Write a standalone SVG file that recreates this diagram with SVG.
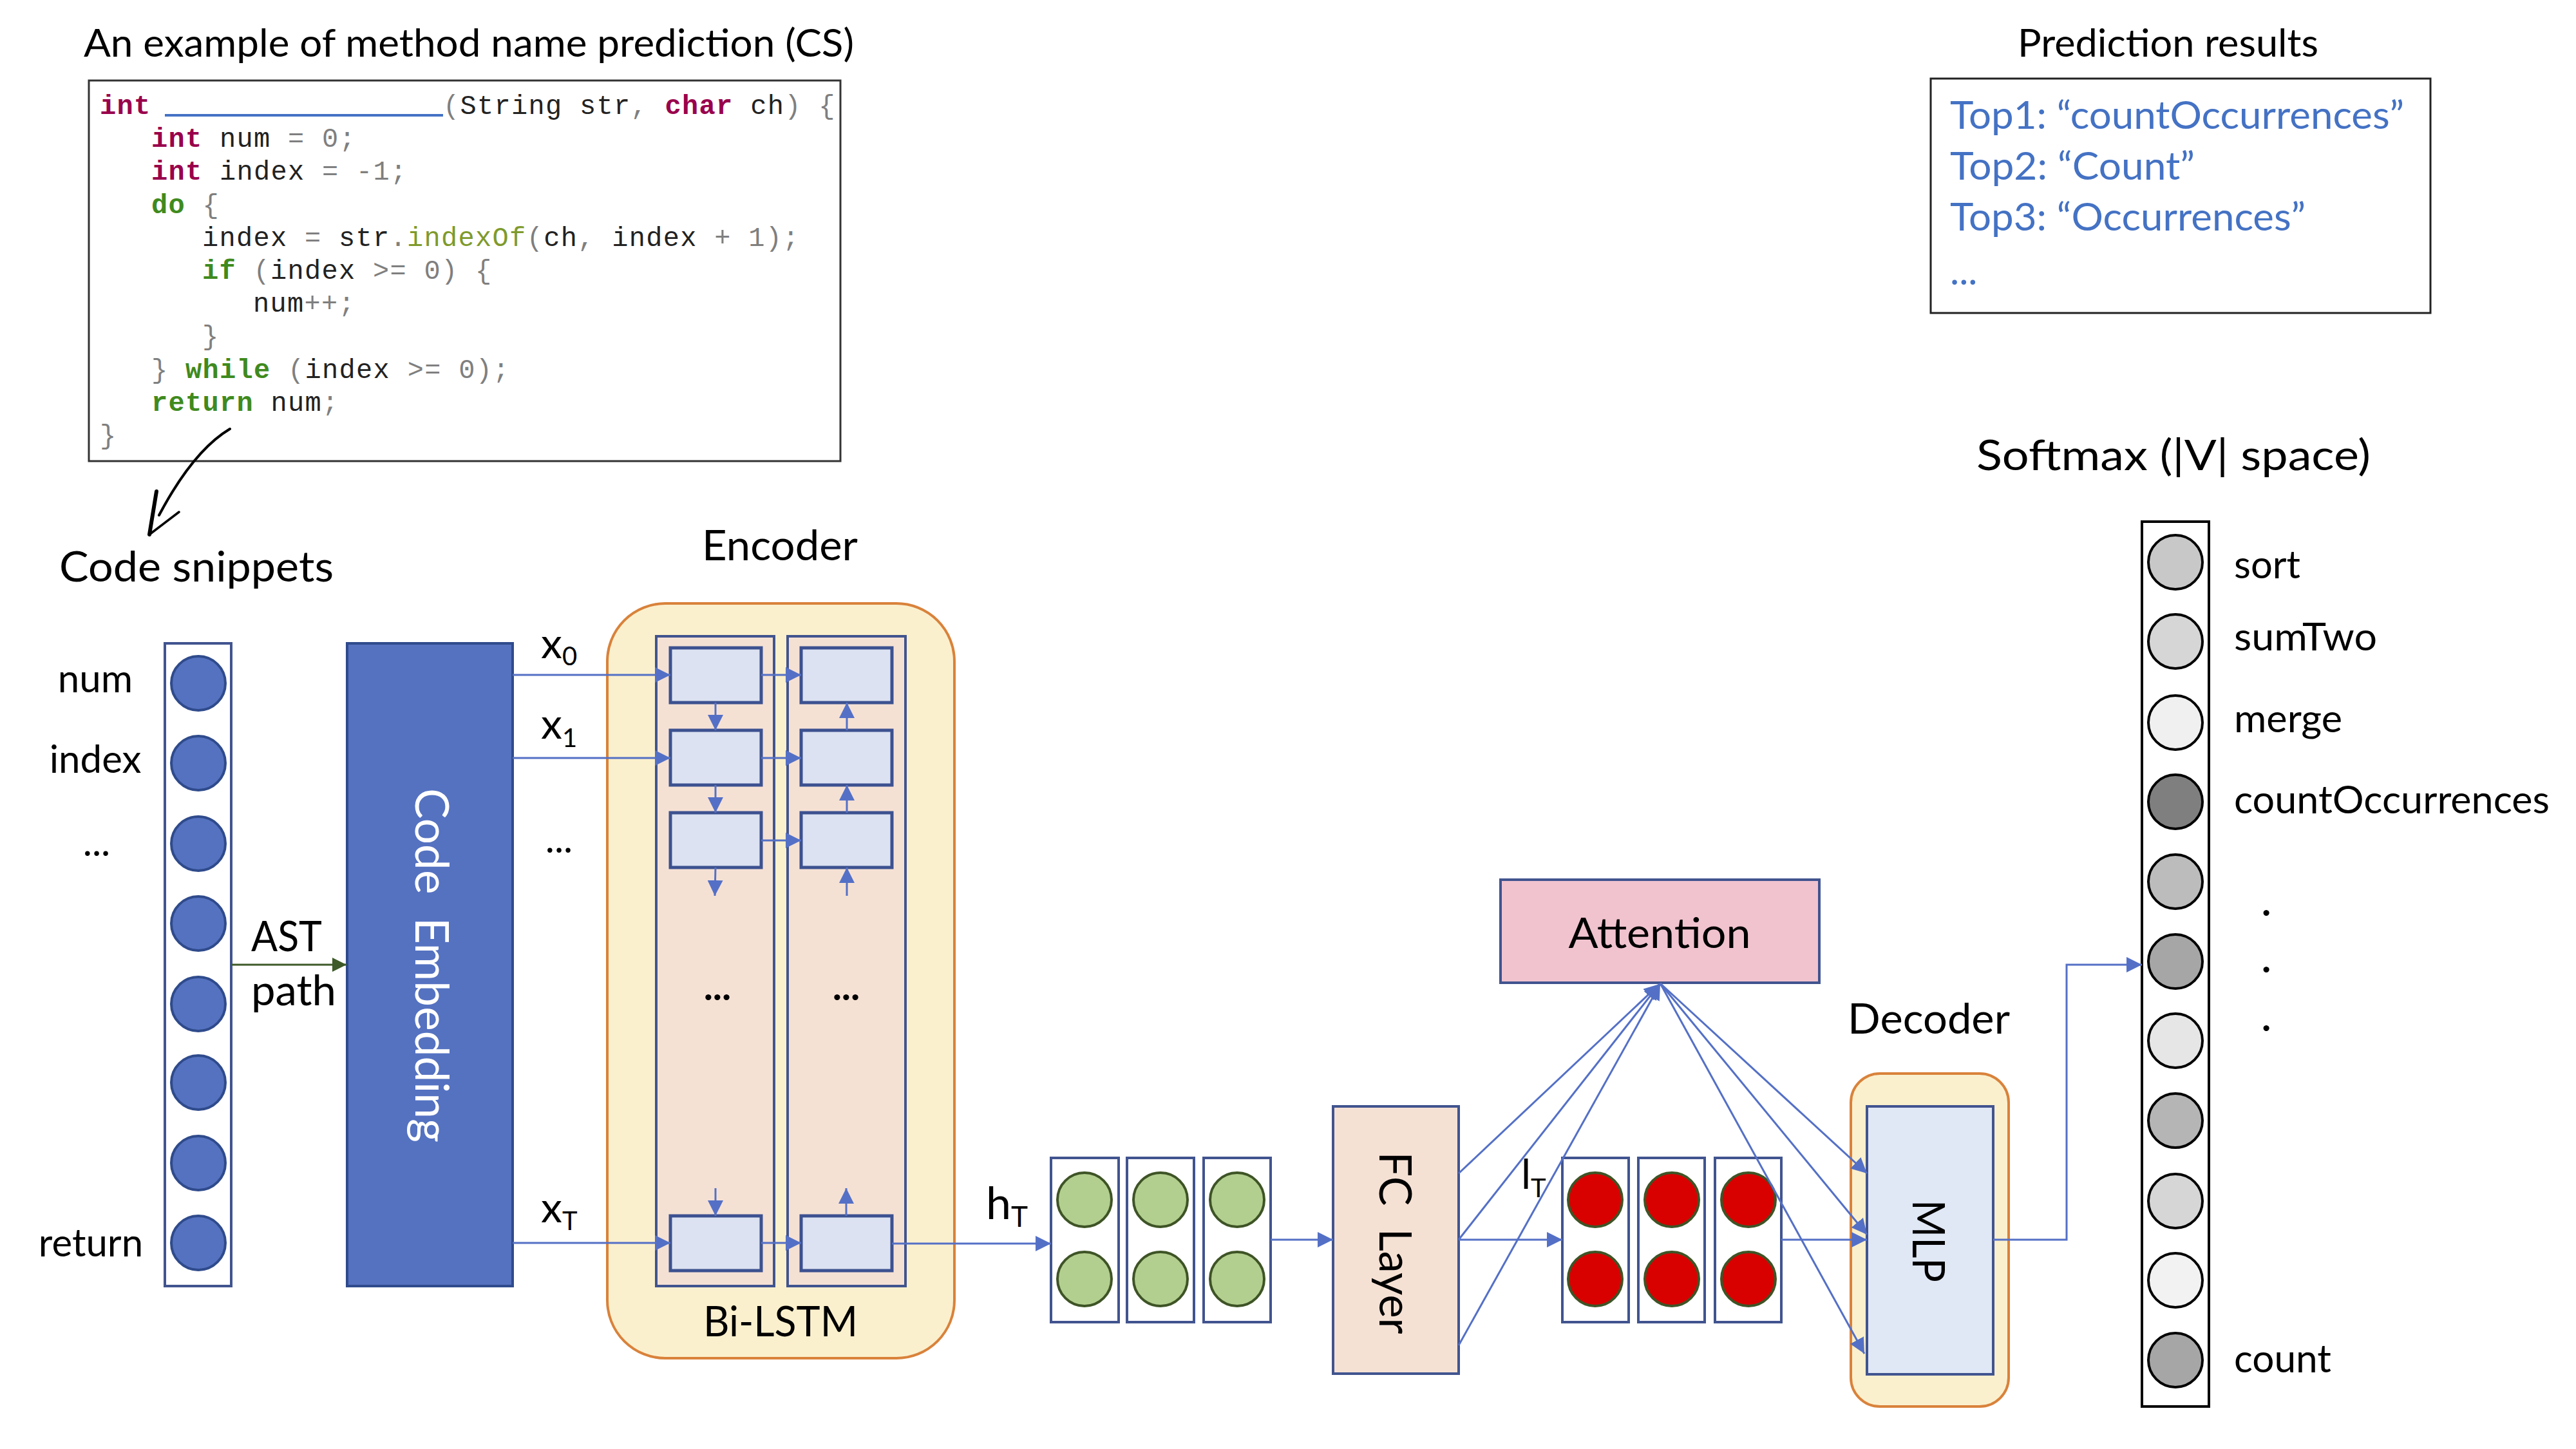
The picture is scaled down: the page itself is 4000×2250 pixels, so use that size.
<svg xmlns="http://www.w3.org/2000/svg" width="4000" height="2250" viewBox="0 0 4000 2250">
<style>
text{font-family:Lato,"Open Sans","Liberation Sans",sans-serif;fill:#000}
.code{font-family:"Liberation Mono",monospace;font-size:42px;letter-spacing:1.3px;fill:#222}
.k1{fill:#99004C;font-weight:bold}
.k2{fill:#3F8A1E;font-weight:bold}
.m{fill:#7E9A2C}
.g{fill:#7F7F7F}
.blue{fill:#4472C4}
.con{stroke:#5470C6;stroke-width:3;fill:none}
.box{stroke:#41548F;stroke-width:4}
.cell{fill:#DCE2F1;stroke:#3C5190;stroke-width:5}
.col{fill:#F5E1D4;stroke:#41548F;stroke-width:4}
.wrap{fill:#FBF0CD;stroke:#D9823B;stroke-width:4}
.bc{fill:#5572C1;stroke:#2F4B8C;stroke-width:4}
.gc{fill:#B3CF8F;stroke:#3E5426;stroke-width:4}
.rc{fill:#D90000;stroke:#3E5426;stroke-width:4}
.sc{stroke:#000;stroke-width:4}
</style>
<defs>
<marker id="ab" viewBox="0 0 24 24" markerWidth="24" markerHeight="24" refX="24" refY="12" orient="auto" markerUnits="userSpaceOnUse"><path d="M0,0 L24,12 L0,24 z" fill="#5470C6"/></marker>
<marker id="ag" viewBox="0 0 22 22" markerWidth="22" markerHeight="22" refX="22" refY="11" orient="auto" markerUnits="userSpaceOnUse"><path d="M0,0 L22,11 L0,22 z" fill="#3D5A28"/></marker>
</defs>
<rect width="4000" height="2250" fill="#fff"/>

<!-- Title and code example -->
<g id="example">
<text x="130" y="88" font-size="60" textLength="1196" lengthAdjust="spacingAndGlyphs">An example of method name prediction (CS)</text>
<rect x="138" y="125" width="1167" height="591" fill="#fff" stroke="#333" stroke-width="3"/>
<text class="code" x="155" y="177"><tspan class="k1">int</tspan></text>
<line x1="256" y1="179" x2="688" y2="179" stroke="#4472C4" stroke-width="4"/>
<text class="code" x="688" y="177"><tspan class="g">(</tspan>String str<tspan class="g">,</tspan> <tspan class="k1">char</tspan> ch<tspan class="g">)</tspan> <tspan class="g">{</tspan></text>
<text class="code" x="235" y="228"><tspan class="k1">int</tspan> num <tspan class="g">= 0;</tspan></text>
<text class="code" x="235" y="279"><tspan class="k1">int</tspan> index <tspan class="g">= -1;</tspan></text>
<text class="code" x="235" y="331"><tspan class="k2">do</tspan> <tspan class="g">{</tspan></text>
<text class="code" x="314" y="382">index <tspan class="g">=</tspan> str<tspan class="g">.</tspan><tspan class="m">indexOf</tspan><tspan class="g">(</tspan>ch<tspan class="g">,</tspan> index <tspan class="g">+ 1);</tspan></text>
<text class="code" x="314" y="433"><tspan class="k2">if</tspan> <tspan class="g">(</tspan>index <tspan class="g">&gt;= 0) {</tspan></text>
<text class="code" x="393" y="484">num<tspan class="g">++;</tspan></text>
<text class="code g" x="314" y="535">}</text>
<text class="code" x="235" y="587"><tspan class="g">}</tspan> <tspan class="k2">while</tspan> <tspan class="g">(</tspan>index <tspan class="g">&gt;= 0);</tspan></text>
<text class="code" x="235" y="638"><tspan class="k2">return</tspan> num<tspan class="g">;</tspan></text>
<text class="code g" x="155" y="689">}</text>
<path d="M357,666 Q300,700 247,800" fill="none" stroke="#000" stroke-width="4" stroke-linecap="round"/>
<line x1="243" y1="763" x2="232" y2="830" stroke="#000" stroke-width="6" stroke-linecap="round"/>
<line x1="232" y1="830" x2="278" y2="795" stroke="#000" stroke-width="3.5" stroke-linecap="round"/>
</g>

<!-- Code snippets -->
<g id="snippets">
<text x="92" y="903" font-size="66" textLength="426" lengthAdjust="spacingAndGlyphs">Code snippets</text>
<rect x="256" y="999" width="103" height="998" fill="#fff" class="box"/>
<circle class="bc" cx="308" cy="1061" r="42"/>
<circle class="bc" cx="308" cy="1185" r="42"/>
<circle class="bc" cx="308" cy="1310" r="42"/>
<circle class="bc" cx="308" cy="1434" r="42"/>
<circle class="bc" cx="308" cy="1559" r="42"/>
<circle class="bc" cx="308" cy="1681" r="42"/>
<circle class="bc" cx="308" cy="1806" r="42"/>
<circle class="bc" cx="308" cy="1930" r="42"/>
<text x="148" y="1075" font-size="60" text-anchor="middle">num</text>
<text x="148" y="1200" font-size="60" text-anchor="middle">index</text>
<text x="150" y="1329" font-size="60" text-anchor="middle">...</text>
<text x="141" y="1951" font-size="60" text-anchor="middle">return</text>
<text x="390" y="1477" font-size="66" textLength="110" lengthAdjust="spacingAndGlyphs">AST</text>
<text x="390" y="1561" font-size="66" textLength="132" lengthAdjust="spacingAndGlyphs">path</text>
</g>

<!-- Code Embedding -->
<g id="embedding">
<rect x="539" y="999" width="257" height="998" class="bc"/>
<text transform="translate(645,1499) rotate(90)" font-size="72" text-anchor="middle" fill="#fff" style="fill:#fff" xml:space="preserve" textLength="550" lengthAdjust="spacingAndGlyphs">Code  Embedding</text>
<text x="840" y="1022" font-size="66">x<tspan font-size="40" dy="11">0</tspan></text>
<text x="840" y="1147" font-size="66">x<tspan font-size="40" dy="13">1</tspan></text>
<text x="868" y="1324" font-size="60" text-anchor="middle">...</text>
<text x="840" y="1898" font-size="66">x<tspan font-size="40" dy="12">T</tspan></text>
</g>

<!-- Encoder -->
<g id="encoder">
<text x="1090" y="870" font-size="66" textLength="242" lengthAdjust="spacingAndGlyphs">Encoder</text>
<rect x="943" y="937" width="539" height="1172" rx="90" class="wrap"/>
<rect x="1019" y="988" width="183" height="1009" class="col"/>
<rect x="1223" y="988" width="183" height="1009" class="col"/>
<rect x="1041" y="1006" width="141" height="85" class="cell"/>
<rect x="1041" y="1134" width="141" height="85" class="cell"/>
<rect x="1041" y="1262" width="141" height="85" class="cell"/>
<rect x="1041" y="1888" width="141" height="85" class="cell"/>
<rect x="1244" y="1006" width="141" height="85" class="cell"/>
<rect x="1244" y="1134" width="141" height="85" class="cell"/>
<rect x="1244" y="1262" width="141" height="85" class="cell"/>
<rect x="1244" y="1888" width="141" height="85" class="cell"/>
<text x="1114" y="1553" font-size="60" text-anchor="middle" font-weight="bold">...</text>
<text x="1314" y="1553" font-size="60" text-anchor="middle" font-weight="bold">...</text>
<text x="1092" y="2075" font-size="66" textLength="240" lengthAdjust="spacingAndGlyphs">Bi-LSTM</text>
</g>

<!-- Hidden states -->
<g id="hidden">
<text x="1531" y="1893" font-size="70">h<tspan font-size="44" dy="12">T</tspan></text>
<rect x="1632" y="1798" width="105" height="255" fill="#fff" class="box"/>
<rect x="1750" y="1798" width="104" height="255" fill="#fff" class="box"/>
<rect x="1869" y="1798" width="104" height="255" fill="#fff" class="box"/>
<circle class="gc" cx="1684" cy="1863" r="42"/>
<circle class="gc" cx="1684" cy="1986" r="42"/>
<circle class="gc" cx="1802" cy="1863" r="42"/>
<circle class="gc" cx="1802" cy="1986" r="42"/>
<circle class="gc" cx="1921" cy="1863" r="42"/>
<circle class="gc" cx="1921" cy="1986" r="42"/>
</g>

<!-- FC layer -->
<g id="fc">
<rect x="2070" y="1718" width="195" height="415" fill="#F5E1D4" class="box"/>
<text transform="translate(2142,1930) rotate(90)" font-size="70" text-anchor="middle" xml:space="preserve" textLength="283" lengthAdjust="spacingAndGlyphs">FC  Layer</text>
</g>

<!-- l_T vectors -->
<g id="lt">
<text x="2362" y="1846" font-size="64">l<tspan font-size="40" dy="13">T</tspan></text>
<rect x="2426" y="1798" width="103" height="255" fill="#fff" class="box"/>
<rect x="2544" y="1798" width="103" height="255" fill="#fff" class="box"/>
<rect x="2663" y="1798" width="103" height="255" fill="#fff" class="box"/>
<circle class="rc" cx="2477" cy="1863" r="42"/>
<circle class="rc" cx="2477" cy="1986" r="42"/>
<circle class="rc" cx="2596" cy="1863" r="42"/>
<circle class="rc" cx="2596" cy="1986" r="42"/>
<circle class="rc" cx="2715" cy="1863" r="42"/>
<circle class="rc" cx="2715" cy="1986" r="42"/>
</g>

<!-- Attention -->
<g id="attention">
<rect x="2330" y="1366" width="495" height="160" fill="#F1C3CF" class="box"/>
<text x="2577" y="1472" font-size="66" text-anchor="middle" textLength="283" lengthAdjust="spacingAndGlyphs">Attention</text>
</g>

<!-- Decoder -->
<g id="decoder">
<text x="2869" y="1605" font-size="66" textLength="252" lengthAdjust="spacingAndGlyphs">Decoder</text>
<rect x="2874" y="1667" width="245" height="517" rx="45" class="wrap"/>
<rect x="2899" y="1718" width="196" height="416" fill="#E0E7F5" class="box"/>
<text transform="translate(2970,1927) rotate(90)" font-size="70" text-anchor="middle" textLength="128" lengthAdjust="spacingAndGlyphs">MLP</text>
</g>

<!-- Softmax -->
<g id="softmax">
<text x="3069" y="730" font-size="66" textLength="612" lengthAdjust="spacingAndGlyphs">Softmax (|V| space)</text>
<rect x="3326" y="810" width="104" height="1374" fill="#fff" stroke="#000" stroke-width="4"/>
<circle class="sc" cx="3378" cy="873" r="42" fill="#C8C8C8"/>
<circle class="sc" cx="3378" cy="996" r="42" fill="#D6D6D6"/>
<circle class="sc" cx="3378" cy="1122" r="42" fill="#F0F0F0"/>
<circle class="sc" cx="3378" cy="1245" r="42" fill="#7F7F7F"/>
<circle class="sc" cx="3378" cy="1369" r="42" fill="#BCBCBC"/>
<circle class="sc" cx="3378" cy="1493" r="42" fill="#A6A6A6"/>
<circle class="sc" cx="3378" cy="1616" r="42" fill="#E6E6E6"/>
<circle class="sc" cx="3378" cy="1740" r="42" fill="#B5B5B5"/>
<circle class="sc" cx="3378" cy="1865" r="42" fill="#D6D6D6"/>
<circle class="sc" cx="3378" cy="1988" r="42" fill="#F2F2F2"/>
<circle class="sc" cx="3378" cy="2112" r="42" fill="#A6A6A6"/>
<text x="3469" y="898" font-size="60" textLength="103" lengthAdjust="spacingAndGlyphs">sort</text>
<text x="3469" y="1010" font-size="60" textLength="222" lengthAdjust="spacingAndGlyphs">sumTwo</text>
<text x="3469" y="1137" font-size="60" textLength="168" lengthAdjust="spacingAndGlyphs">merge</text>
<text x="3469" y="1263" font-size="60" textLength="490" lengthAdjust="spacingAndGlyphs">countOccurrences</text>
<text x="3519" y="1422" font-size="60" text-anchor="middle" font-weight="bold">.</text>
<text x="3519" y="1510" font-size="60" text-anchor="middle" font-weight="bold">.</text>
<text x="3519" y="1601" font-size="60" text-anchor="middle" font-weight="bold">.</text>
<text x="3469" y="2131" font-size="60" textLength="151" lengthAdjust="spacingAndGlyphs">count</text>
</g>

<!-- Prediction results -->
<g id="results">
<text x="3133" y="88" font-size="60" textLength="467" lengthAdjust="spacingAndGlyphs">Prediction results</text>
<rect x="2998" y="122" width="776" height="364" fill="#fff" stroke="#222" stroke-width="3"/>
<text class="blue" x="3028" y="200" font-size="60" textLength="705" lengthAdjust="spacingAndGlyphs">Top1: “countOccurrences”</text>
<text class="blue" x="3028" y="279" font-size="60" textLength="380" lengthAdjust="spacingAndGlyphs">Top2: “Count”</text>
<text class="blue" x="3028" y="358" font-size="60" textLength="552" lengthAdjust="spacingAndGlyphs">Top3: “Occurrences”</text>
<text class="blue" x="3028" y="442" font-size="60">...</text>
</g>

<!-- Connectors -->
<g id="connectors">
<line x1="359" y1="1498" x2="538" y2="1498" stroke="#3D5A28" stroke-width="3" marker-end="url(#ag)"/>
<line class="con" x1="796" y1="1048" x2="1041" y2="1048" marker-end="url(#ab)"/>
<line class="con" x1="796" y1="1177" x2="1041" y2="1177" marker-end="url(#ab)"/>
<line class="con" x1="796" y1="1930" x2="1041" y2="1930" marker-end="url(#ab)"/>
<line class="con" x1="1111" y1="1091" x2="1111" y2="1134" marker-end="url(#ab)"/>
<line class="con" x1="1111" y1="1219" x2="1111" y2="1262" marker-end="url(#ab)"/>
<line class="con" x1="1111" y1="1347" x2="1110" y2="1391" marker-end="url(#ab)"/>
<line class="con" x1="1111" y1="1845" x2="1111" y2="1888" marker-end="url(#ab)"/>
<line class="con" x1="1315" y1="1134" x2="1315" y2="1091" marker-end="url(#ab)"/>
<line class="con" x1="1315" y1="1262" x2="1315" y2="1219" marker-end="url(#ab)"/>
<line class="con" x1="1315" y1="1391" x2="1315" y2="1347" marker-end="url(#ab)"/>
<line class="con" x1="1314" y1="1888" x2="1314" y2="1845" marker-end="url(#ab)"/>
<line class="con" x1="1182" y1="1048" x2="1244" y2="1048" marker-end="url(#ab)"/>
<line class="con" x1="1182" y1="1177" x2="1244" y2="1177" marker-end="url(#ab)"/>
<line class="con" x1="1182" y1="1305" x2="1244" y2="1305" marker-end="url(#ab)"/>
<line class="con" x1="1182" y1="1930" x2="1244" y2="1930" marker-end="url(#ab)"/>
<line class="con" x1="1385" y1="1931" x2="1632" y2="1931" marker-end="url(#ab)"/>
<line class="con" x1="1973" y1="1925" x2="2070" y2="1925" marker-end="url(#ab)"/>
<line class="con" x1="2265" y1="1925" x2="2426" y2="1925" marker-end="url(#ab)"/>
<line class="con" x1="2265" y1="1822" x2="2577" y2="1528" marker-end="url(#ab)"/>
<line class="con" x1="2265" y1="1925" x2="2577" y2="1528" marker-end="url(#ab)"/>
<line class="con" x1="2265" y1="2089" x2="2578" y2="1528" marker-end="url(#ab)"/>
<line class="con" x1="2578" y1="1527" x2="2899" y2="1822" marker-end="url(#ab)"/>
<line class="con" x1="2578" y1="1527" x2="2899" y2="1917" marker-end="url(#ab)"/>
<line class="con" x1="2578" y1="1527" x2="2895" y2="2102" marker-end="url(#ab)"/>
<line class="con" x1="2766" y1="1925" x2="2899" y2="1925" marker-end="url(#ab)"/>
<polyline class="con" points="3095,1925 3209,1925 3209,1498 3326,1498" marker-end="url(#ab)"/>
</g>
</svg>
